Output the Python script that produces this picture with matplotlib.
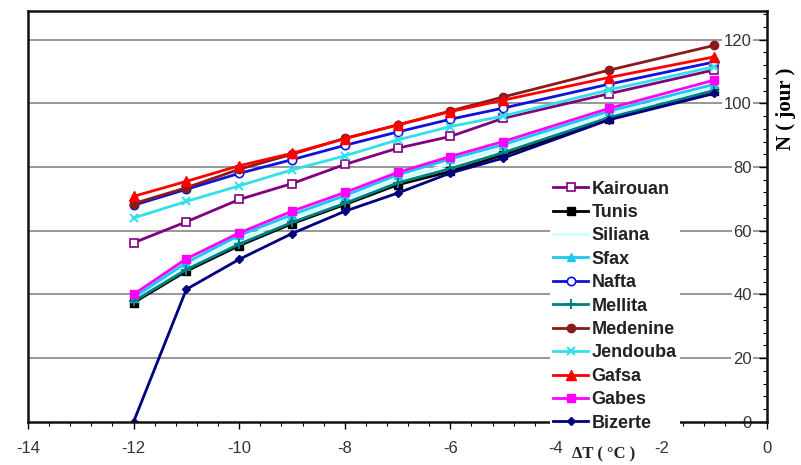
import numpy as np
import matplotlib
matplotlib.use("Agg")
import matplotlib.pyplot as plt
from matplotlib.ticker import MultipleLocator

# temperature difference (x) and number of days N for each station
dt = [-12, -11, -10, -9, -8, -7, -6, -5, -3, -1]

kairouan = [56.2, 62.8, 69.8, 74.8, 80.8, 85.9, 89.6, 95.3, 103.0, 110.5]
tunis = [37.4, 47.3, 55.3, 62.2, 68.2, 74.4, 78.6, 83.8, 95.0, 104.0]
siliana = [38.5, 49.0, 57.0, 64.0, 70.0, 76.0, 81.0, 86.0, 96.5, 105.0]
sfax = [39.0, 50.0, 58.5, 65.0, 71.0, 77.5, 82.5, 87.0, 97.5, 106.0]
nafta = [68.0, 73.0, 78.0, 82.3, 86.8, 91.0, 95.0, 98.5, 106.0, 113.0]
mellita = [37.8, 47.8, 55.8, 62.6, 68.6, 75.0, 79.5, 84.5, 95.5, 104.0]
medenine = [68.5, 73.5, 79.3, 84.0, 89.0, 93.2, 97.6, 102.0, 110.4, 118.2]
jendouba = [64.0, 69.2, 74.1, 79.1, 83.5, 88.5, 92.7, 96.0, 104.2, 111.5]
gafsa = [70.8, 75.5, 80.4, 84.3, 88.9, 93.2, 97.4, 101.0, 108.1, 114.6]
gabes = [40.0, 51.2, 59.3, 66.1, 72.0, 78.3, 83.3, 88.0, 98.4, 107.3]
bizerte = [0.0, 41.6, 51.0, 59.1, 66.1, 71.8, 78.1, 82.8, 94.8, 103.1]

names = ["Kairouan", "Tunis", "Siliana", "Sfax", "Nafta", "Mellita",
         "Medenine", "Jendouba", "Gafsa", "Gabes", "Bizerte"]
series = [kairouan, tunis, siliana, sfax, nafta, mellita,
          medenine, jendouba, gafsa, gabes, bizerte]

xticks = [-14, -12, -10, -8, -6, -4, -2, 0]
yticks = [0, 20, 40, 60, 80, 100, 120]

styles = {
    "Kairouan": dict(color="#800080", marker="s", mfc="white", ms=6, mew=1.2),
    "Tunis": dict(color="#000000", marker="s", ms=6),
    "Siliana": dict(color="#ccffff", marker="", ms=5),
    "Sfax": dict(color="#19c8f0", marker="^", ms=6),
    "Nafta": dict(color="#1010e0", marker="o", mfc="white", ms=6, mew=1.2),
    "Mellita": dict(color="#008080", marker="+", ms=7, mew=1.5),
    "Medenine": dict(color="#8b1a1a", marker="o", ms=6),
    "Jendouba": dict(color="#33e0e8", marker="x", ms=6, mew=1.5),
    "Gafsa": dict(color="#ff0000", marker="^", ms=7),
    "Gabes": dict(color="#ff00ff", marker="s", ms=6),
    "Bizerte": dict(color="#000080", marker="D", ms=4),
}

plt.rcParams["font.family"] = ["Liberation Sans", "DejaVu Sans"]

fig = plt.figure(figsize=(8.01, 4.65), dpi=100)
ax = fig.add_axes([0.035, 0.0931, 0.9226, 0.8832])

for name, vals in zip(names, series):
    ax.plot(dt, vals, lw=2.0, label=name, **styles[name])

ax.set_xlim(-14, 0)
ax.set_ylim(0, 129)

ax.set_xticks(xticks, [str(v) for v in xticks])
ax.xaxis.set_minor_locator(MultipleLocator(0.4))
ax.tick_params(axis="x", which="major", direction="out", length=5,
               width=1, labelsize=12, labelcolor="#333333", pad=9)
ax.tick_params(axis="x", which="minor", direction="out", length=3, width=0.8)

ax.yaxis.tick_right()
ax.set_yticks(yticks, [str(v) for v in yticks], ha="right",
              bbox=dict(fc="white", ec="none", pad=1))
ax.yaxis.set_minor_locator(MultipleLocator(4))
ax.tick_params(axis="y", which="major", direction="in", length=6, width=1,
               labelsize=12, labelcolor="#333333", pad=-11)
ax.tick_params(axis="y", which="minor", direction="in", length=3, width=0.8)

for v in yticks[1:]:
    ax.axhline(v, color="#909090", lw=1.3, zorder=0.5)

for sp in ax.spines.values():
    sp.set_linewidth(1.8)
    sp.set_color("#111111")

fig.text(0.981, 0.765, "N ( jour )", rotation=90, ha="center", va="center",
         fontsize=15, fontweight="bold", family="Liberation Serif")
ax.text(-3.1, -0.08, "ΔT ( °C )", transform=ax.get_xaxis_transform(),
        ha="center", va="center", fontsize=12, fontweight="bold",
        family="Liberation Serif", color="#222222",
        bbox=dict(fc="white", ec="none", pad=0.5))

leg = ax.legend(loc="upper left", bbox_to_anchor=(0.706, 0.596),
                frameon=True, framealpha=1, edgecolor="none",
                fontsize=13, labelspacing=0.355, handlelength=1.9,
                handletextpad=0.2, borderpad=0.2, borderaxespad=0)
leg.set_zorder(10)
for t in leg.get_texts():
    t.set_fontweight("bold")
    t.set_color("#222222")

fig.savefig("out.png", dpi=100)
